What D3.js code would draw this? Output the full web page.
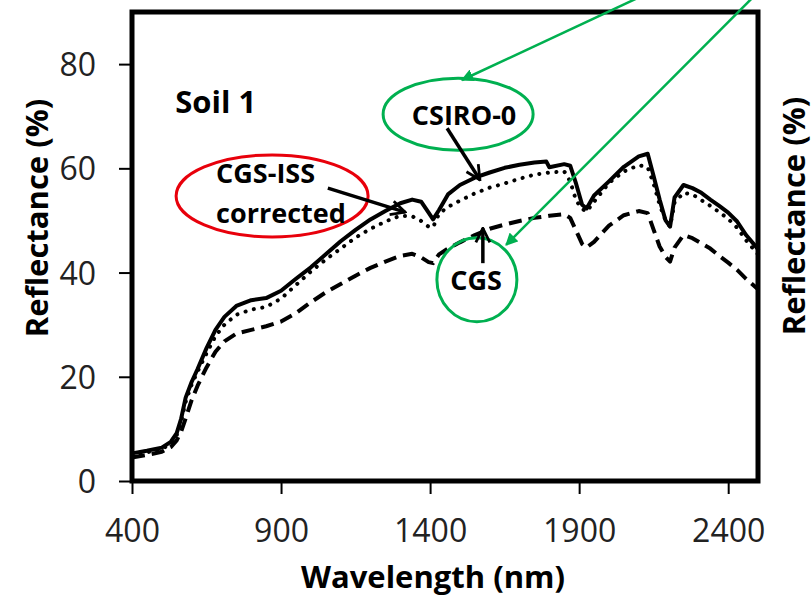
<!DOCTYPE html>
<html>
<head>
<meta charset="utf-8">
<script src="https://d3js.org/d3.v7.min.js"></script>
<style>
  body { margin: 0; background: #fff; }
  svg { display: block; font-family: "Open Sans", sans-serif; }
  .tick text { font-size: 32px; fill: #222; }
  .tick line { stroke: #000; stroke-width: 2; }
  .title { font-weight: bold; font-size: 31px; fill: #000; }
  .note { font-weight: bold; font-size: 27px; fill: #000; }
</style>
</head>
<body>
<svg id="svg" width="811" height="600"></svg>
<script>
// wavelength grid (nm) and reflectance (%)
var wavelength = [400, 450, 500, 530, 550, 565, 580, 600, 620, 650, 680, 710, 750, 800, 850, 900, 950, 1000,
  1050, 1100, 1150, 1200, 1250, 1300, 1340, 1370, 1395, 1410, 1430, 1460, 1500, 1550, 1600, 1650, 1700,
  1750, 1790, 1800, 1850, 1870, 1890, 1910, 1925, 1950, 2000, 2050, 2100, 2130, 2150, 2170, 2190, 2205,
  2220, 2250, 2280, 2310, 2340, 2370, 2400, 2430, 2460, 2500];

var csiro0 = [5.3, 5.8, 6.4, 7.5, 9.2, 12, 16, 19, 21.5, 25.5, 29, 31.5, 33.6, 34.7, 35.1, 36.5, 38.8, 41,
  43.5, 46, 48.2, 50.2, 51.8, 53.3, 54, 53.6, 51.5, 50.2, 52, 55, 56.8, 58.2, 59.2, 60.1, 60.7,
  61.1, 61.3, 60.2, 60.8, 60.5, 57, 53, 52.3, 54.8, 57.5, 60.3, 62.3, 62.8, 58.5, 54, 50, 48.8,
  54.4, 56.8, 56.2, 55.3, 54, 52.8, 51.5, 49.8, 47.2, 44.5];

var cgsIss = [5.0, 5.5, 6.1, 7.2, 8.8, 11.5, 15.2, 18.5, 21, 24.5, 27.8, 30, 31.9, 32.9, 33.4, 35, 37.6, 40.2,
  42.5, 44.6, 46.7, 48.4, 49.8, 50.9, 50.8, 49.9, 48.8, 48.7, 51.3, 52.6, 53.8, 55.2, 56.3, 57.1, 58,
  58.8, 59.1, 59.2, 59.4, 57.5, 53.8, 52.2, 51.7, 53.6, 57.2, 59.4, 60.6, 60.2, 57, 53, 50, 48.8,
  53.4, 55.3, 55, 53.9, 52.8, 51.6, 50.3, 48.6, 46.2, 43.5];

var cgs = [4.5, 5.0, 5.6, 6.5, 7.8, 9.5, 12, 15.5, 18.3, 21.8, 24.8, 26.8, 28.3, 29, 29.7, 30.6, 32.2, 34.3,
  36.2, 37.8, 39.4, 40.9, 42.1, 43.2, 43.6, 42.9, 42, 41.8, 43.5, 44.6, 45.8, 47.2, 48.4, 49.2, 49.9,
  50.5, 50.8, 50.9, 51.2, 50.5, 48, 45.5, 44.8, 45.9, 49, 51, 51.8, 51.4, 48.2, 45, 43, 42.1,
  44.8, 47.2, 46.6, 45.6, 44.6, 43.2, 41.9, 40.5, 38.8, 36.8];

var xTicks = [400, 900, 1400, 1900, 2400];
var yTicks = [0, 20, 40, 60, 80];

var svg = d3.select("#svg");

var x = d3.scaleLinear().domain([400, 2500]).range([132, 758]);
var y = d3.scaleLinear().domain([0, 90]).range([481, 12]);

var defs = svg.append("defs");
defs.append("marker")
    .attr("id", "greenHead")
    .attr("viewBox", "0 0 10 10")
    .attr("refX", 9).attr("refY", 5)
    .attr("markerWidth", 5).attr("markerHeight", 5)
    .attr("orient", "auto")
  .append("path")
    .attr("d", "M0,0L10,5L0,10z")
    .attr("fill", "#00b050");
defs.append("marker")
    .attr("id", "blackHead")
    .attr("viewBox", "0 0 10 10")
    .attr("refX", 9).attr("refY", 5)
    .attr("markerWidth", 5).attr("markerHeight", 5)
    .attr("orient", "auto")
  .append("path")
    .attr("d", "M1,1L9,5L1,9")
    .attr("fill", "none")
    .attr("stroke", "#000")
    .attr("stroke-width", 1.6)
    .attr("stroke-linejoin", "miter");

// axes
var gy = svg.append("g")
    .attr("transform", "translate(132,0)")
    .call(d3.axisLeft(y).tickValues(yTicks).tickSize(13).tickPadding(23));
gy.attr("font-family", null).attr("font-size", null);
gy.select(".domain").remove();
gy.selectAll("text").attr("dy", "0.36em");

var gx = svg.append("g")
    .attr("transform", "translate(0,481)")
    .call(d3.axisBottom(x).tickValues(xTicks).tickFormat(d3.format("d")).tickSize(13).tickPadding(25));
gx.attr("font-family", null).attr("font-size", null);
gx.select(".domain").remove();

// series
var line = d3.line()
    .x(function(d) { return x(d[0]); })
    .y(function(d) { return y(d[1]); });

var series = [
  { values: cgs, dash: "13 7", cap: "butt" },
  { values: cgsIss, dash: "0.1 8.5", cap: "round" },
  { values: csiro0, dash: null, cap: "round" }
];

svg.append("g").selectAll("path")
  .data(series)
  .enter().append("path")
    .attr("d", function(s) { return line(d3.zip(wavelength, s.values)); })
    .attr("fill", "none")
    .attr("stroke", "#000")
    .attr("stroke-width", 4)
    .attr("stroke-linejoin", "round")
    .attr("stroke-linecap", function(s) { return s.cap; })
    .attr("stroke-dasharray", function(s) { return s.dash; });

// frame
svg.append("rect")
    .attr("x", x(400)).attr("y", y(90))
    .attr("width", x(2500) - x(400))
    .attr("height", y(0) - y(90))
    .attr("fill", "none")
    .attr("stroke", "#000")
    .attr("stroke-width", 5);

// axis titles
svg.append("text")
    .attr("class", "title")
    .attr("x", 433).attr("y", 588)
    .attr("text-anchor", "middle")
    .text("Wavelength (nm)");

svg.append("text")
    .attr("class", "title")
    .attr("transform", "translate(36,218)rotate(-90)")
    .attr("text-anchor", "middle")
    .attr("dominant-baseline", "central")
    .text("Reflectance (%)");

svg.append("text")
    .attr("class", "title")
    .attr("transform", "translate(793,216)rotate(-90)")
    .attr("text-anchor", "middle")
    .attr("dominant-baseline", "central")
    .text("Reflectance (%)");

// annotations
svg.append("text")
    .attr("class", "note")
    .attr("x", x(545)).attr("y", y(70.6))
    .style("font-size", "31px")
    .text("Soil 1");

svg.append("ellipse")
    .attr("cx", x(1494)).attr("cy", y(70.4))
    .attr("rx", 75).attr("ry", 36)
    .attr("fill", "none").attr("stroke", "#00b050").attr("stroke-width", 3);
svg.append("text")
    .attr("class", "note")
    .attr("x", x(1514)).attr("y", y(68.3))
    .attr("text-anchor", "middle")
    .text("CSIRO-0");

svg.append("ellipse")
    .attr("cx", x(1557)).attr("cy", y(38.6))
    .attr("rx", 40).attr("ry", 42)
    .attr("fill", "none").attr("stroke", "#00b050").attr("stroke-width", 3);
svg.append("text")
    .attr("class", "note")
    .attr("x", x(1554)).attr("y", y(36.7))
    .attr("text-anchor", "middle")
    .text("CGS");

svg.append("ellipse")
    .attr("cx", x(870)).attr("cy", y(54.7))
    .attr("rx", 96).attr("ry", 41)
    .attr("fill", "none").attr("stroke", "#e8000b").attr("stroke-width", 3);
svg.append("text")
    .attr("class", "note")
    .attr("x", x(682)).attr("y", y(57.2))
    .text("CGS-ISS");
svg.append("text")
    .attr("class", "note")
    .attr("x", x(682)).attr("y", y(49.5))
    .text("corrected");

var arrows = [
  { from: [1457, 67.7], to: [1567, 57.8], color: "#000", width: 3.5, head: "blackHead" },
  { from: [1577, 41.8], to: [1577, 48.5], color: "#000", width: 3.5, head: "blackHead" },
  { from: [1057, 56.2], to: [1316, 51.6], color: "#000", width: 3.5, head: "blackHead" },
  { from: [2138, 93.8], to: [1507, 76.95], color: "#00b050", width: 2.5, head: "greenHead" },
  { from: [2507, 94.2], to: [1655, 45.3], color: "#00b050", width: 2.5, head: "greenHead" }
];

svg.append("g").selectAll("line")
  .data(arrows)
  .enter().append("line")
    .attr("x1", function(d) { return x(d.from[0]); })
    .attr("y1", function(d) { return y(d.from[1]); })
    .attr("x2", function(d) { return x(d.to[0]); })
    .attr("y2", function(d) { return y(d.to[1]); })
    .attr("stroke", function(d) { return d.color; })
    .attr("stroke-width", function(d) { return d.width; })
    .attr("marker-end", function(d) { return "url(#" + d.head + ")"; });
</script>
</body>
</html>
